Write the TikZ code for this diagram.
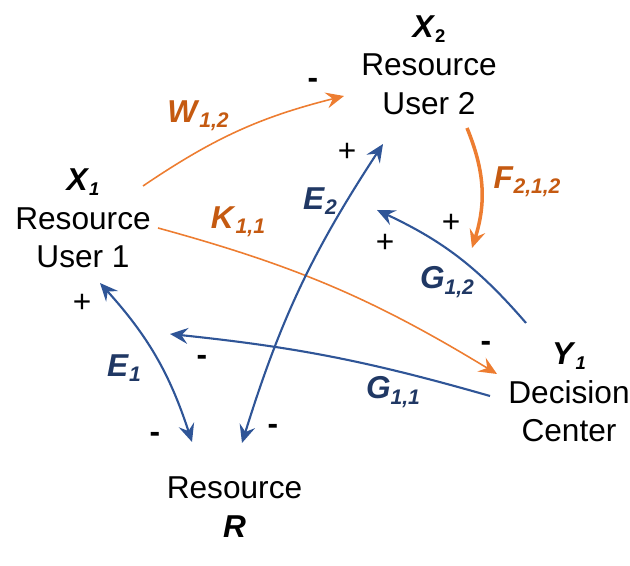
\documentclass[tikz,border=0pt]{standalone}
\usepackage{fontspec}
\setmainfont{Liberation Sans}
\usetikzlibrary{arrows.meta}
\definecolor{flowblue}{RGB}{47,85,151}
\definecolor{labelblue}{RGB}{32,56,100}
\definecolor{floworange}{RGB}{237,125,49}
\definecolor{labelorange}{RGB}{197,90,17}

% bold italic symbol with a lowered subscript
\newcommand{\var}[3][12]{\textbf{\textit{#2}}\raisebox{-3pt}{\fontsize{#1}{#1}\selectfont\textbf{\textit{#3}}}}

\begin{document}
\begin{tikzpicture}[
    >={Stealth[length=3.6mm, width=3.2mm, inset=1.3mm]},
    actor/.style={align=center, inner sep=0pt, font=\fontsize{18}{22}\selectfont},
    orangeflow/.style={floworange, line width=0.9pt},
    blueflow/.style={flowblue, line width=1.2pt},
    orangelab/.style={text=labelorange, inner sep=0pt, font=\fontsize{18}{22}\selectfont},
    bluelab/.style={text=labelblue, inner sep=0pt, font=\fontsize{18}{22}\selectfont},
    sign/.style={inner sep=0pt, font=\fontsize{18}{22}\selectfont}
]
    \useasboundingbox (0, 0) rectangle (12.6, 11.32);

    % actors
    \node[actor] at (1.66, 6.95) (x1) {\var[10.5]{X}{1}\\Resource\\User 1};
    \node[actor] at (8.58, 10.02) (x2) {\textbf{\textit{X}}\raisebox{-3pt}{\fontsize{10.5}{10.5}\selectfont\textbf{2}}\\Resource\\User 2};
    \node[actor] at (11.38, 3.47) (y1) {\var[10.5]{Y}{1}\\Decision\\Center};
    \node[actor] at (4.69, 1.18) (r) {Resource\\\textbf{\textit{R}}};

    % arrow ends
    \coordinate (w-a) at (2.86, 7.60);
    \coordinate (w-b) at (6.88, 9.40);
    \coordinate (f-a) at (9.34, 8.76);
    \coordinate (f-b) at (9.44, 6.36);
    \coordinate (k-a) at (3.16, 6.76);
    \coordinate (k-b) at (9.94, 3.84);
    \coordinate (e2-a) at (7.66, 8.44);
    \coordinate (e2-b) at (4.84, 2.46);
    \coordinate (e1-a) at (2.00, 5.66);
    \coordinate (e1-b) at (3.84, 2.48);
    \coordinate (g11-a) at (9.80, 3.40);
    \coordinate (g11-b) at (3.40, 4.64);
    \coordinate (g12-a) at (10.52, 4.86);
    \coordinate (g12-b) at (7.54, 7.12);

    % orange links
    \draw[orangeflow, ->] (w-a) to[bend left=10] (w-b);
    \draw[orangeflow, ->, line width=2pt] (f-a) to[bend left=20] (f-b);
    \draw[orangeflow, ->] (k-a) to[bend left=8] (k-b);

    % blue links
    \draw[blueflow, <->] (e2-a) to[bend right=8] (e2-b);
    \draw[blueflow, <->] (e1-a) to[bend left=12] (e1-b);
    \draw[blueflow, ->] (g11-a) to[bend right=5] (g11-b);
    \draw[blueflow, ->] (g12-a) to[bend right=12] (g12-b);

    % link labels
    \node[orangelab] at (3.96, 9.00) (w) {\var{W}{1,2}};
    \node[orangelab] at (10.54, 7.68) (f) {\var{F}{2,1,2}};
    \node[orangelab] at (4.76, 6.88) (k) {\var{K}{1,1}};
    \node[bluelab] at (6.40, 7.30) (e2) {\var{E}{2}};
    \node[bluelab] at (2.48, 3.96) (e1) {\var{E}{1}};
    \node[bluelab] at (7.86, 3.48) (g11) {\var{G}{1,1}};
    \node[bluelab] at (8.94, 5.68) (g12) {\var{G}{1,2}};

    % signs
    \node[sign] at (6.26, 9.66) (w-sign) {\textbf{-}};
    \node[sign] at (6.94, 8.28) (e2-top) {+};
    \node[sign] at (9.02, 6.86) (f-sign) {+};
    \node[sign] at (7.70, 6.46) (g12-sign) {+};
    \node[sign] at (9.72, 4.40) (k-sign) {\textbf{-}};
    \node[sign] at (4.04, 4.12) (g11-sign) {\textbf{-}};
    \node[sign] at (1.64, 5.26) (e1-top) {+};
    \node[sign] at (3.10, 2.58) (e1-bot) {\textbf{-}};
    \node[sign] at (5.46, 2.74) (e2-bot) {\textbf{-}};
\end{tikzpicture}
\end{document}
